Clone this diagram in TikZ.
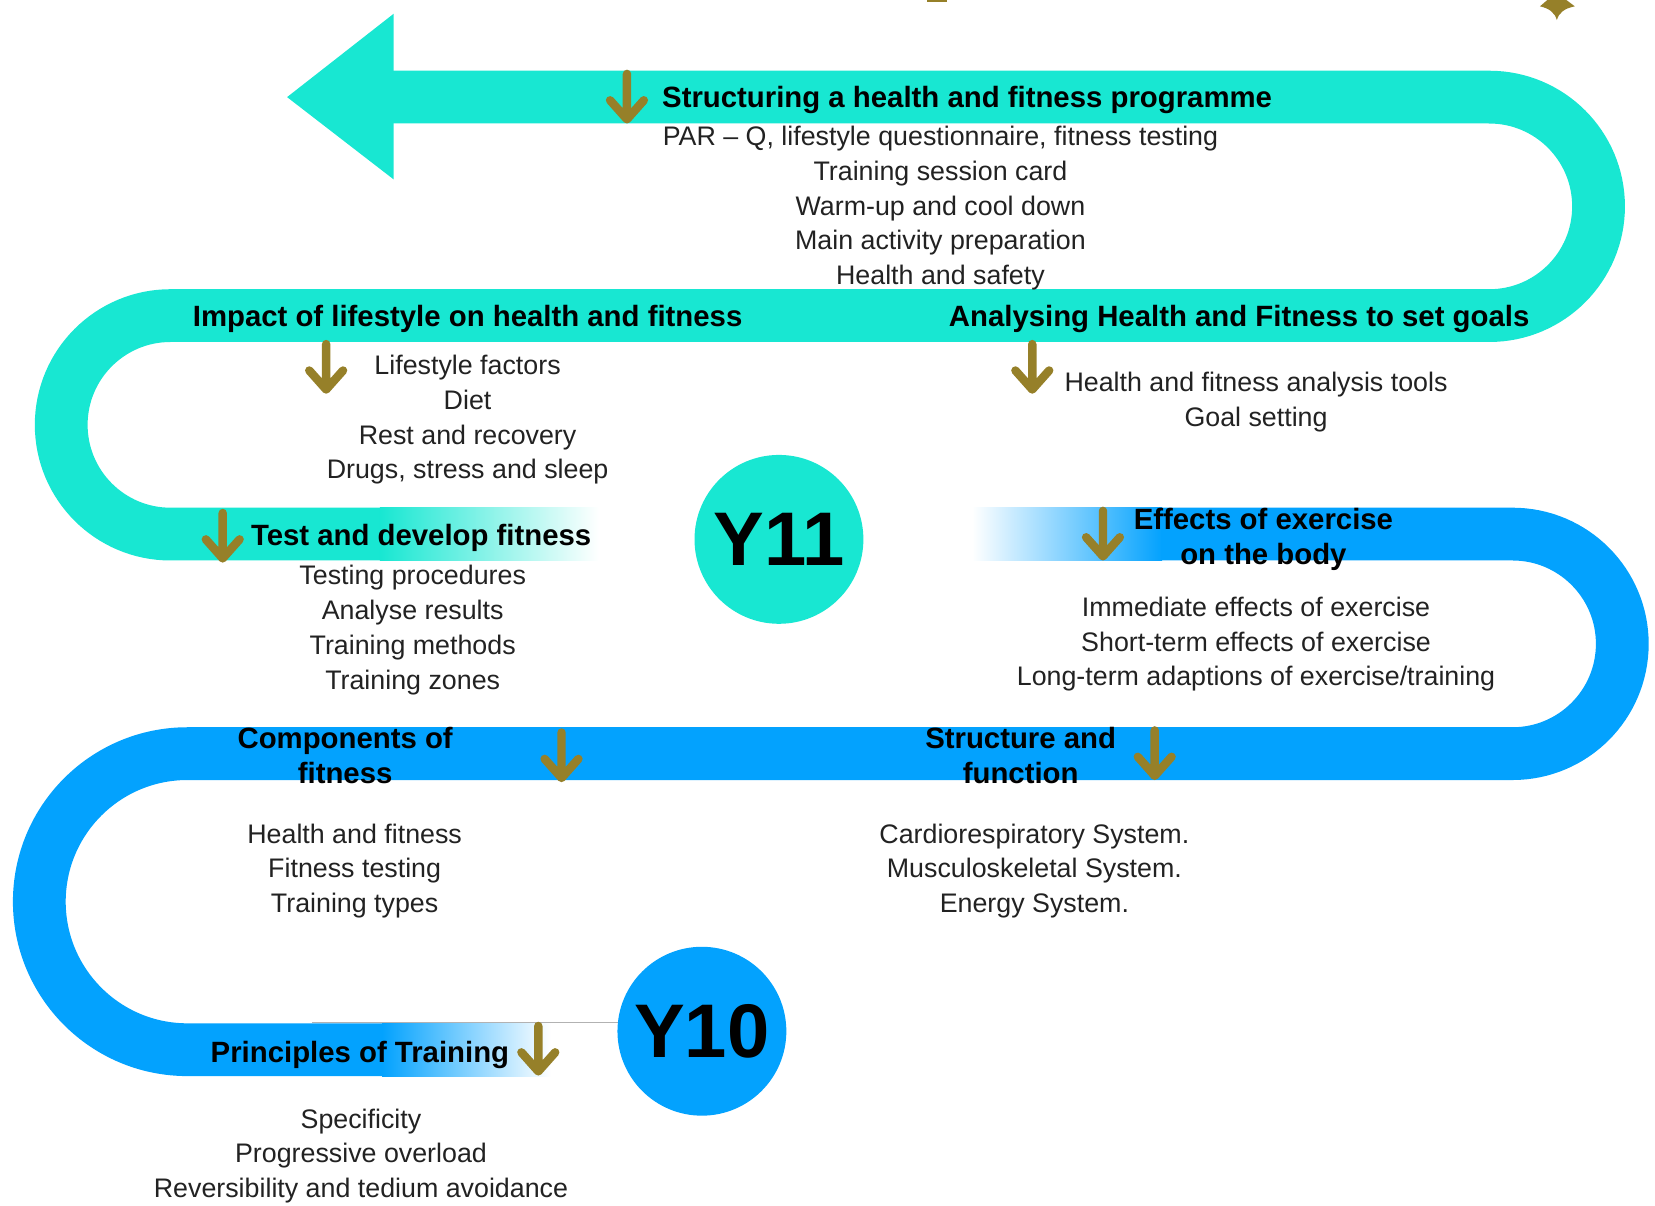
\documentclass[tikz,border=0pt]{standalone}
\usepackage{fontspec}
\setmainfont{Liberation Sans}
\usetikzlibrary{positioning,calc}
\definecolor{yrTeal}{HTML}{18E7D2}
\definecolor{yrBlue}{HTML}{03A2FE}
\definecolor{markGold}{HTML}{968029}
\definecolor{bodyGrey}{HTML}{222222}
\tikzset{
  band/.style={line width=25pt},
  tealBand/.style={band, draw=yrTeal},
  blueBand/.style={band, draw=yrBlue},
  yearDisc/.style={circle, minimum size=80pt, inner sep=0pt,
    font=\fontsize{36}{36}\selectfont\bfseries},
  headText/.style={inner sep=0pt, align=center,
    font=\fontsize{13.9}{16.5}\selectfont\bfseries},
  bodyText/.style={inner sep=0pt, align=center, text=bodyGrey,
    font=\fontsize{12.7}{16.5}\selectfont},
  markLine/.style={draw=markGold, line width=4pt, line cap=round, line join=round},
  downmark/.pic={\draw[markLine] (0,0) -- (0,43) (-16,25) -- (0,43) -- (16,25);},
}
\begin{document}
\begin{tikzpicture}[x=0.5pt, y=-0.5pt]
  \useasboundingbox (0,0) rectangle (1568,1142);

  % Y11 track
  \fill[yrTeal] (373,13) -- (272,92) -- (373,170) -- cycle;
  \draw[tealBand] (372,92) -- (1411,92) arc[start angle=-90, end angle=90, radius=103.5]
    -- (161.5,299) arc[start angle=-90, end angle=-270, radius=103.5] -- (361,506);
  \shade[left color=yrTeal, right color=white] (360,481) rectangle (567,531);

  % Y10 track
  \shade[left color=white, right color=yrBlue] (921,481) rectangle (1101,531);
  \draw[blueBand] (1100,506) -- (1433,506) arc[start angle=-90, end angle=90, radius=104]
    -- (177.5,714) arc[start angle=-90, end angle=-270, radius=140.25] -- (363,994.5);
  \shade[left color=yrBlue, right color=white] (362,969.5) rectangle (522,1019.5);

  % cut-off marks at the top edge
  \fill[markGold] (878,0) rectangle (897,2);
  \fill[markGold] (1466,0) -- (1484,0) -- (1492,6) .. controls (1482,8) and (1477,12) .. (1475,19)
    .. controls (1473,12) and (1468,8) .. (1459,6) -- cycle;

  \node[yearDisc, fill=yrTeal] (y11) at (738,511) {Y11};
  \coordinate (tail) at (296,969);
  \draw[black!30, line width=0.6pt] (tail) -- (tail -| 600,0);
  \node[yearDisc, fill=yrBlue] (y10) at (665,977) {Y10};

  \node[headText, anchor=base west] (structHead) at (627,102) {Structuring a health and fitness programme};
  \node[bodyText, anchor=north] (structBody) at (891,119) {PAR -- Q, lifestyle questionnaire, fitness testing\\
    Training session card\\ Warm-up and cool down\\ Main activity preparation\\ Health and safety};
  \node[headText, anchor=base] (impactHead) at (443,309) {Impact of lifestyle on health and fitness};
  \node[bodyText, anchor=north] (impactBody) at (443,336) {Lifestyle factors\\ Diet\\ Rest and recovery\\ Drugs, stress and sleep};
  \node[headText, anchor=base] (goalHead) at (1174,309) {Analysing Health and Fitness to set goals};
  \node[bodyText, anchor=north] (goalBody) at (1190,352) {Health and fitness analysis tools\\ Goal setting};
  \node[headText, anchor=base] (testHead) at (399,517) {Test and develop fitness};
  \node[bodyText, anchor=north] (testBody) at (391,535) {Testing procedures\\ Analyse results\\ Training methods\\ Training zones};
  \node[headText, anchor=north] (effectHead) at (1197,481) {Effects of exercise\\ on the body};
  \node[bodyText, anchor=north] (effectBody) at (1190,565) {Immediate effects of exercise\\
    Short-term effects of exercise\\ Long-term adaptions of exercise/training};
  \node[headText, anchor=north] (compHead) at (327,689) {Components of\\ fitness};
  \node[bodyText, anchor=north] (compBody) at (336,780) {Health and fitness\\ Fitness testing\\ Training types};
  \node[headText, anchor=north] (sysHead) at (967,689) {Structure and\\ function};
  \node[bodyText, anchor=north] (sysBody) at (980,780) {Cardiorespiratory System.\\ Musculoskeletal System.\\ Energy System.};
  \node[headText, anchor=base] (princHead) at (341,1007) {Principles of Training};
  \node[bodyText, anchor=north] (princBody) at (342,1050) {Specificity\\ Progressive overload\\ Reversibility and tedium avoidance};

  \foreach \mx/\my in {594/70, 309/326, 978/326, 211/486, 1045/484, 532/694, 1094/692, 510/972}
    \pic at (\mx,\my) {downmark};
\end{tikzpicture}
\end{document}
